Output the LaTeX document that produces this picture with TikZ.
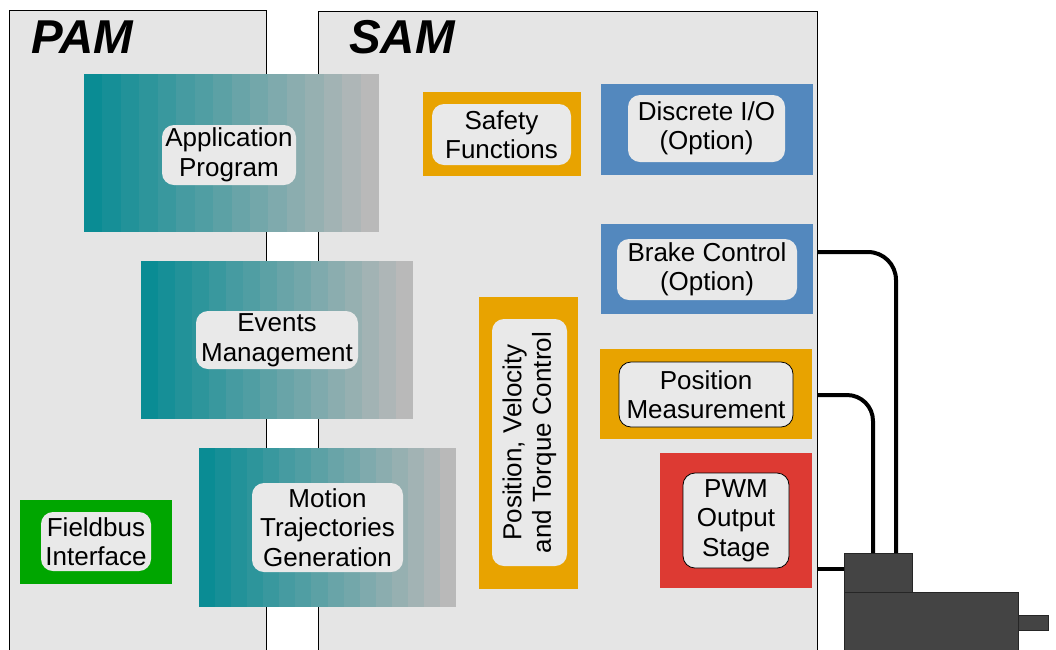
\documentclass[tikz,border=0pt]{standalone}
\usepackage{fontspec}
\setmainfont{Liberation Sans}
\usetikzlibrary{calc}
\definecolor{panelc}{HTML}{E5E5E5}
\definecolor{lblc}{HTML}{E9E9E9}
\definecolor{orangec}{HTML}{E8A300}
\definecolor{bluec}{HTML}{5388BE}
\definecolor{redc}{HTML}{DD3A33}
\definecolor{greenc}{HTML}{00A600}
\definecolor{tealc}{HTML}{0A8C94}
\definecolor{grayc}{HTML}{B9B9B9}
\definecolor{motorc}{HTML}{444444}
\newcommand\lbfont{\fontsize{26}{29.5}\selectfont}
\newcommand\ttlfont{\fontsize{47.5}{50}\selectfont\bfseries\itshape}
\newcommand\gradblock[5]{%
  \foreach \i in {0,...,15}{%
    \pgfmathsetmacro\xa{#2+(#4-#2)*\i/16}%
    \pgfmathsetmacro\xb{#2+(#4-#2)*(\i+1)/16+(\i<15 ? 0.6 : 0)}%
    \pgfmathtruncatemacro\p{100-100*\i/15}%
    \fill[tealc!\p!grayc] (\xa,#3) rectangle (\xb,#5);
  }%
  \node[blk, minimum width={#4-#2}, minimum height={#5-#3}] (#1) at ({(#2+#4)/2},{(#3+#5)/2}) {};%
}
\begin{document}
\begin{tikzpicture}[x=1pt,y=-1pt,
  panel/.style={draw=black, line width=0.8pt, fill=panelc, inner sep=0, outer sep=0},
  blk/.style={inner sep=0, outer sep=0},
  lbl/.style={fill=lblc, rounded corners=12pt, align=center, font=\lbfont, inner sep=0, outer sep=0},
  lblb/.style={lbl, draw=black, line width=0.8pt},
  ttl/.style={font=\ttlfont, anchor=base west, inner sep=0},
  motor/.style={fill=motorc, draw=black!85, line width=0.8pt, inner sep=0, outer sep=0},
  cable/.style={line width=4pt, draw=black}]
\useasboundingbox (0,0) rectangle (1056,649);
\clip (0,0) rectangle (1056,649);

% panels
\node[panel, minimum width=257, minimum height=680] (pam) at (137.5,350) {};
\node[panel, minimum width=499, minimum height=680] (sam) at (567.5,351) {};
\node[ttl] (pamt) at (31,53) {PAM};
\node[ttl] (samt) at (349,53) {SAM};

% PAM gradient blocks
\gradblock{app}{84}{74}{379}{232}
\node[lbl, minimum width=134, minimum height=60] (appl) at (229,155) {Application\\Program};
\gradblock{evt}{141}{261}{413}{419}
\node[lbl, minimum width=162, minimum height=58] (evtl) at (277,340) {Events\\Management};
\gradblock{mot}{199}{448}{456}{607}
\node[lbl, minimum width=151, minimum height=89] (motl) at (327.5,527.5) {Motion\\Trajectories\\Generation};

% Fieldbus
\node[blk, fill=greenc, minimum width=152, minimum height=84] (fb) at (96,542) {};
\node[lbl, minimum width=110, minimum height=59] (fbl) at (96,541.5) {Fieldbus\\Interface};

% SAM blocks
\node[blk, fill=orangec, minimum width=158, minimum height=84] (saf) at (502,134) {};
\node[lbl, minimum width=139, minimum height=61] (safl) at (501.5,134.5) {Safety\\Functions};

\node[blk, fill=bluec, minimum width=212, minimum height=91] (dio) at (707,129.5) {};
\node[lbl, minimum width=157, minimum height=67] (diol) at (706.5,128.5) {Discrete I/O\\(Option)};

\node[blk, fill=bluec, minimum width=212, minimum height=90] (brk) at (707,269) {};
\node[lbl, minimum width=180, minimum height=61] (brkl) at (707,269.5) {Brake Control\\(Option)};

\node[blk, fill=orangec, minimum width=99, minimum height=292] (pvt) at (528.5,443) {};
\node[lbl, rotate=90, minimum width=247, minimum height=75] (pvtl) at (529.5,442.5) {Position, Velocity\\and Torque Control};

\node[blk, fill=orangec, minimum width=212, minimum height=90] (pos) at (706,394) {};
\node[lblb, minimum width=174, minimum height=65] (posl) at (706,394.5) {Position\\Measurement};

\node[blk, fill=redc, minimum width=152, minimum height=135] (pwm) at (736,520.5) {};
\node[lblb, minimum width=106, minimum height=95] (pwml) at (736,520.5) {PWM\\Output\\Stage};

% motor
\node[motor, minimum width=174, minimum height=90] (mbody) at (931,637) {};
\node[motor, minimum width=68, minimum height=39] (conn) at (878,572.5) {};
\node[motor, minimum width=30, minimum height=15, anchor=west] (shaft) at (mbody.east |- 0,622.5) {};

% cables
\coordinate (cb) at (817,252);
\coordinate (cpm) at (817,395);
\coordinate (cpw) at (817,569);
\draw[cable, rounded corners=28pt] (cb) -| ($(conn.north west)+(52,0)$);
\draw[cable, rounded corners=26pt] (cpm) -| ($(conn.north west)+(29,0)$);
\draw[cable] (cpw) -- (conn.west |- cpw);
\end{tikzpicture}
\end{document}
